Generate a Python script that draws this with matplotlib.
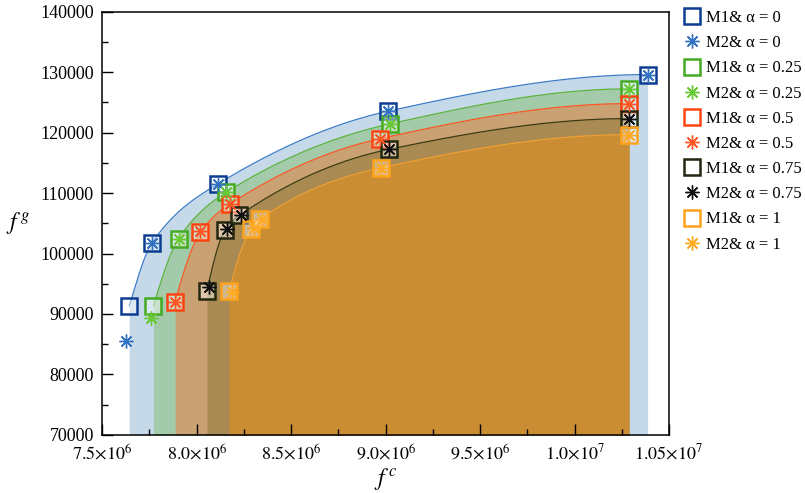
import numpy as np
import matplotlib
matplotlib.use("Agg")
from matplotlib import pyplot as plt
from matplotlib.ticker import MultipleLocator, FixedLocator

plt.rcParams['font.family'] = ['Liberation Serif', 'DejaVu Serif']
plt.rcParams['mathtext.fontset'] = 'stix'

alphas = ['0', '0.25', '0.5', '0.75', '1']

# M1 results (squares) per alpha
m1_x = [
    [7.643e6, 7.763e6, 8.115e6, 9.011e6, 10.387e6],
    [7.771e6, 7.904e6, 8.156e6, 9.025e6, 10.288e6],
    [7.886e6, 8.019e6, 8.177e6, 8.968e6, 10.288e6],
    [8.054e6, 8.151e6, 8.226e6, 9.018e6, 10.288e6],
    [8.172e6, 8.288e6, 8.336e6, 8.976e6, 10.288e6],
]
m1_y = [
    [91360, 101740, 111570, 123540, 129620],
    [91360, 102460, 110130, 121470, 127250],
    [92030, 103500, 108200, 118990, 124810],
    [93730, 103950, 106320, 117250, 122330],
    [93730, 104060, 105720, 114200, 119680],
]

# M2 results (asterisks) per alpha
m2_x = [
    [7.627e6, 7.763e6, 8.115e6, 9.011e6, 10.387e6],
    [7.758e6, 7.904e6, 8.156e6, 9.025e6, 10.288e6],
    [7.886e6, 8.015e6, 8.177e6, 8.968e6, 10.288e6],
    [8.066e6, 8.163e6, 8.235e6, 9.018e6, 10.288e6],
    [8.186e6, 8.301e6, 8.345e6, 8.976e6, 10.288e6],
]
m2_y = [
    [85450, 101740, 111570, 123540, 129620],
    [89330, 102460, 110130, 121470, 127250],
    [92030, 103800, 108200, 118990, 124810],
    [94460, 104050, 106320, 117250, 122330],
    [93560, 104230, 105720, 114200, 119680],
]

sq_colors = ['#0c3d92', '#44aa22', '#ff4411', '#23270f', '#ffa31a']
star_colors = ['#3272c2', '#66c833', '#ff5522', '#111111', '#ffaa22']
line_colors = ['#3b7bc8', '#5ab33a', '#ff5522', '#3a3a10', '#f0a030']
fill_colors = ['#c5d9e9', '#a3cbaa', '#c9a173', '#a98a53', '#ca8d34']


def pchip(x, y, xs):
    x = np.asarray(x, float)
    y = np.asarray(y, float)
    h = np.diff(x)
    d = np.diff(y) / h
    n = len(x)
    m = np.zeros(n)
    for k in range(1, n - 1):
        if d[k - 1] * d[k] > 0:
            w1 = 2 * h[k] + h[k - 1]
            w2 = h[k] + 2 * h[k - 1]
            m[k] = (w1 + w2) / (w1 / d[k - 1] + w2 / d[k])
    m[0] = ((2 * h[0] + h[1]) * d[0] - h[0] * d[1]) / (h[0] + h[1])
    if m[0] * d[0] <= 0:
        m[0] = 0
    m[-1] = ((2 * h[-1] + h[-2]) * d[-1] - h[-1] * d[-2]) / (h[-1] + h[-2])
    if m[-1] * d[-1] <= 0:
        m[-1] = 0
    idx = np.clip(np.searchsorted(x, xs) - 1, 0, n - 2)
    t = (xs - x[idx]) / h[idx]
    h00 = 2 * t**3 - 3 * t**2 + 1
    h10 = t**3 - 2 * t**2 + t
    h01 = -2 * t**3 + 3 * t**2
    h11 = t**3 - t**2
    return (h00 * y[idx] + h10 * h[idx] * m[idx]
            + h01 * y[idx + 1] + h11 * h[idx] * m[idx + 1])


fig = plt.figure(figsize=(8.05, 4.93), dpi=100)
ax = fig.add_axes([0.127, 0.118, 0.704, 0.858])

ybot = 70000
for i in range(5):
    xs = np.linspace(m1_x[i][0], m1_x[i][-1], 400)
    ys = pchip(m1_x[i], m1_y[i], xs)
    ax.fill_between(xs, ybot, ys, color=fill_colors[i], lw=0, zorder=1)
    ax.plot(xs, ys, color=line_colors[i], lw=0.9, zorder=2)

handles = []
for i in range(5):
    h1, = ax.plot(m1_x[i], m1_y[i], ls='none', marker='s', ms=11,
                  mec=sq_colors[i], mfc=(1, 1, 1, 0.4), mew=1.8, zorder=3,
                  label='M1& α = ' + alphas[i])
    h2, = ax.plot(m2_x[i], m2_y[i], ls='none', marker=(8, 2, 0), ms=10,
                  mec=star_colors[i], mew=1.0, zorder=4,
                  label='M2& α = ' + alphas[i])
    ax.plot(m2_x[i], m2_y[i], ls='none', marker='o', ms=2.5,
            color=star_colors[i], zorder=4)
    handles += [h1, h2]

ax.set_xlim(7.5e6, 10.5e6)
ax.set_ylim(70000, 140000)
xt = [7.5e6, 8.0e6, 8.5e6, 9.0e6, 9.5e6, 1.0e7, 1.05e7]
xl = [r'$7.5{\times}10^{6}$', r'$8.0{\times}10^{6}$', r'$8.5{\times}10^{6}$',
      r'$9.0{\times}10^{6}$', r'$9.5{\times}10^{6}$', r'$1.0{\times}10^{7}$',
      r'$1.05{\times}10^{7}$']
ax.xaxis.set_major_locator(FixedLocator(xt))
ax.set_xticklabels(xl)
ax.xaxis.set_minor_locator(MultipleLocator(0.25e6))
ax.yaxis.set_major_locator(MultipleLocator(10000))
ax.yaxis.set_minor_locator(MultipleLocator(5000))
ax.tick_params(which='both', direction='in', top=False, right=False,
               labelsize=13, width=1.0, pad=6)
ax.tick_params(which='major', length=8)
ax.tick_params(which='minor', length=4)
for s in ax.spines.values():
    s.set_linewidth(1.1)

ax.set_xlabel(r'$f^{\,c}$', fontsize=17, labelpad=2)
ax.set_ylabel(r'$f^{\,g}$', fontsize=17, rotation=0, labelpad=16, va='center')

fig.legend(handles=handles, loc='upper left', bbox_to_anchor=(0.84, 0.993),
           frameon=False, fontsize=12, labelspacing=0.55, handletextpad=0.3,
           handlelength=1.1, borderaxespad=0)

fig.savefig('out.png', dpi=100)
